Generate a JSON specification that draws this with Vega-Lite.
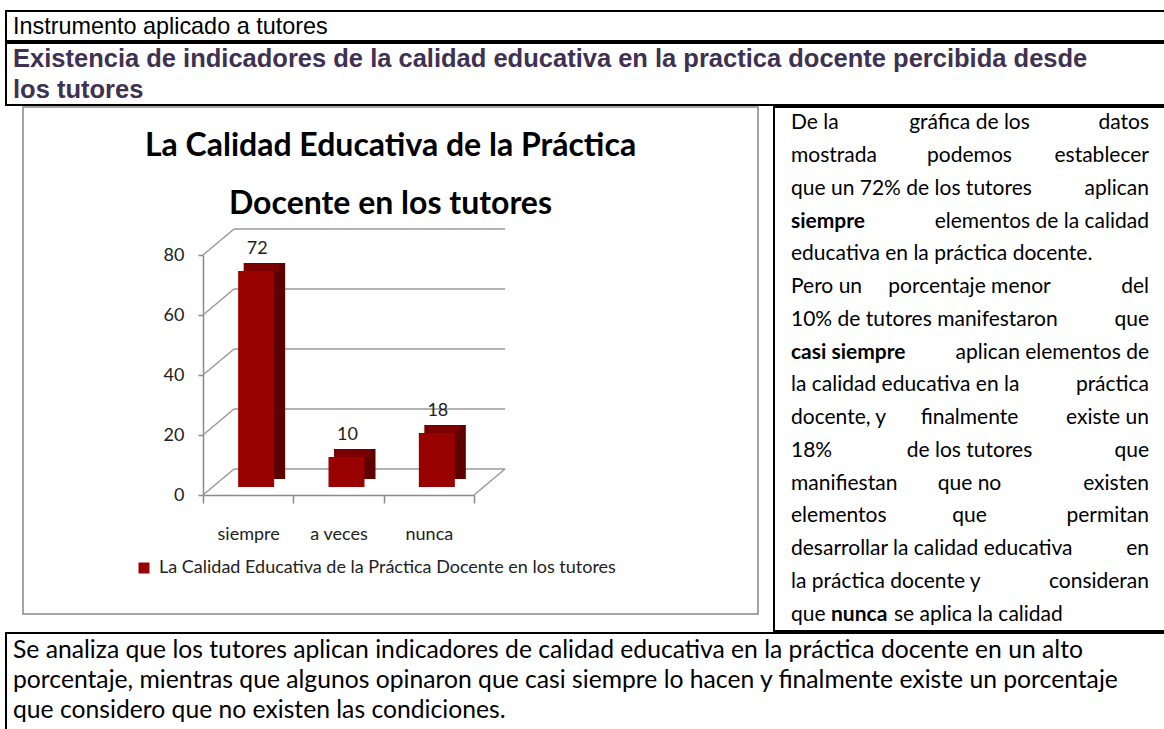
{
  "$schema": "https://vega.github.io/schema/vega-lite/v6.json",
  "padding": {"left": 5, "top": 10, "right": 0, "bottom": 0},
  "background": "white",
  "spacing": 0,
  "datasets": {
    "cab1": [{"texto": "Instrumento aplicado a tutores"}],
    "cab2": [
      {"linea": 1, "texto": "Existencia de indicadores de la calidad educativa en la practica docente percibida desde"},
      {"linea": 2, "texto": "los tutores"}
    ],
    "barras": [
      {"respuesta": "siempre", "porcentaje": 72},
      {"respuesta": "a veces", "porcentaje": 10},
      {"respuesta": "nunca", "porcentaje": 18}
    ],
    "rejilla": [{"v": 0}, {"v": 20}, {"v": 40}, {"v": 60}, {"v": 80}],
    "texto_der": [
      {"linea": 1, "parte": "izq", "texto": "De la"},
      {"linea": 1, "parte": "centro", "texto": "gráfica de los"},
      {"linea": 1, "parte": "der", "texto": "datos"},
      {"linea": 2, "parte": "izq", "texto": "mostrada"},
      {"linea": 2, "parte": "centro", "texto": "podemos"},
      {"linea": 2, "parte": "der", "texto": "establecer"},
      {"linea": 3, "parte": "izq", "texto": "que un 72% de los tutores"},
      {"linea": 3, "parte": "der", "texto": "aplican"},
      {"linea": 4, "parte": "neg", "texto": "siempre"},
      {"linea": 4, "parte": "der", "texto": "elementos de la calidad"},
      {"linea": 5, "parte": "izq", "texto": "educativa en la práctica docente."},
      {"linea": 6, "parte": "izq", "texto": "Pero un"},
      {"linea": 6, "parte": "centro", "texto": "porcentaje menor"},
      {"linea": 6, "parte": "der", "texto": "del"},
      {"linea": 7, "parte": "izq", "texto": "10% de tutores manifestaron"},
      {"linea": 7, "parte": "der", "texto": "que"},
      {"linea": 8, "parte": "neg", "texto": "casi siempre"},
      {"linea": 8, "parte": "der", "texto": "aplican elementos de"},
      {"linea": 9, "parte": "izq", "texto": "la calidad educativa en la"},
      {"linea": 9, "parte": "der", "texto": "práctica"},
      {"linea": 10, "parte": "izq", "texto": "docente, y"},
      {"linea": 10, "parte": "centro", "texto": "finalmente"},
      {"linea": 10, "parte": "der", "texto": "existe un"},
      {"linea": 11, "parte": "izq", "texto": "18%"},
      {"linea": 11, "parte": "centro", "texto": "de los tutores"},
      {"linea": 11, "parte": "der", "texto": "que"},
      {"linea": 12, "parte": "izq", "texto": "manifiestan"},
      {"linea": 12, "parte": "centro", "texto": "que no"},
      {"linea": 12, "parte": "der", "texto": "existen"},
      {"linea": 13, "parte": "izq", "texto": "elementos"},
      {"linea": 13, "parte": "centro", "texto": "que"},
      {"linea": 13, "parte": "der", "texto": "permitan"},
      {"linea": 14, "parte": "izq", "texto": "desarrollar la calidad educativa"},
      {"linea": 14, "parte": "der", "texto": "en"},
      {"linea": 15, "parte": "izq", "texto": "la práctica docente y"},
      {"linea": 15, "parte": "der", "texto": "consideran"},
      {"linea": 16, "parte": "izq", "texto": "que"},
      {"linea": 16, "parte": "neg2", "texto": "nunca"},
      {"linea": 16, "parte": "izq2", "texto": "se aplica la calidad"}
    ],
    "texto_inf": [
      {"linea": 1, "texto": "Se analiza que los tutores aplican indicadores de calidad educativa en la práctica docente en un alto"},
      {"linea": 2, "texto": "porcentaje, mientras que algunos opinaron que casi siempre lo hacen y finalmente existe un porcentaje"},
      {"linea": 3, "texto": "que considero que no existen las condiciones."}
    ]
  },
  "vconcat": [
    {
      "width": 1159,
      "height": 30,
      "data": {"name": "cab1"},
      "mark": {"type": "text", "align": "left", "baseline": "middle", "dx": 7, "dy": 1, "font": "Liberation Sans", "fontSize": 23.4, "color": "black"},
      "encoding": {
        "x": {"datum": 0, "type": "quantitative", "scale": {"domain": [0, 1]}, "axis": null},
        "text": {"field": "texto"}
      }
    },
    {
      "width": 1159,
      "height": 62,
      "data": {"name": "cab2"},
      "mark": {"type": "text", "align": "left", "baseline": "middle", "dx": 7, "font": "Liberation Sans", "fontSize": 25.5, "fontWeight": "bold", "color": "#3f3151"},
      "encoding": {
        "x": {"datum": 0, "type": "quantitative", "scale": {"domain": [0, 1]}, "axis": null},
        "y": {"field": "linea", "type": "ordinal", "scale": {"type": "point", "padding": 0.5, "align": 0.5}, "axis": null},
        "text": {"field": "texto"}
      }
    },
    {
      "spacing": 16,
      "bounds": "flush",
      "hconcat": [
        {
          "width": 1,
          "height": 524,
          "data": {"values": []},
          "mark": "rect",
          "encoding": {}
        },
        {
          "width": 735,
          "height": 507,
          "view": {"stroke": "#868686", "strokeWidth": 1.5},
          "title": {
            "text": ["La Calidad Educativa de la Práctica", "Docente en los tutores"],
            "font": "Lato", "fontSize": 32, "fontWeight": "bold", "color": "black",
            "anchor": "middle", "frame": "group", "orient": "top",
            "baseline": "top", "offset": -114, "lineHeight": 58
          },
          "resolve": {"scale": {"x": "independent"}, "axis": {"x": "independent"}},
          "layer": [
            {
              "data": {"name": "rejilla"},
              "mark": {"type": "rule", "color": "#9a9a9a", "strokeWidth": 1.5, "xOffset": 31, "x2Offset": 31, "yOffset": -26, "y2Offset": -26},
              "encoding": {
                "x": {"datum": 0, "type": "quantitative", "scale": {"domain": [0, 1], "range": [180, 451]}, "axis": null},
                "x2": {"datum": 1},
                "y": {"field": "v", "type": "quantitative",
                  "scale": {"domain": [0, 80], "range": [388, 148], "nice": false},
                  "axis": {"title": null, "values": [0, 20, 40, 60, 80], "offset": -180, "grid": false,
                    "tickSize": 5, "tickColor": "#8a8a8a", "tickWidth": 1.5, "domainColor": "#8a8a8a", "domainWidth": 1.5,
                    "labelFont": "Lato", "labelFontSize": 18, "labelColor": "#222222", "labelPadding": 14}},
                "y2": {"field": "v"}
              }
            },
            {
              "data": {"name": "rejilla"},
              "mark": {"type": "rule", "color": "#9a9a9a", "strokeWidth": 1.5, "x2Offset": 31, "y2Offset": -26},
              "encoding": {
                "x": {"datum": 0, "type": "quantitative", "scale": {"domain": [0, 1], "range": [180, 451]}, "axis": null},
                "x2": {"datum": 0},
                "y": {"field": "v", "type": "quantitative"},
                "y2": {"field": "v"}
              }
            },
            {
              "data": {"name": "rejilla"},
              "transform": [{"filter": "datum.v == 0"}],
              "mark": {"type": "rule", "color": "#9a9a9a", "strokeWidth": 1.5, "x2Offset": 31, "y2Offset": -26},
              "encoding": {
                "x": {"datum": 1, "type": "quantitative", "scale": {"domain": [0, 1], "range": [180, 451]}, "axis": null},
                "x2": {"datum": 1},
                "y": {"field": "v", "type": "quantitative"},
                "y2": {"field": "v"}
              }
            },
            {
              "data": {"name": "barras"},
              "encoding": {
                "x": {"field": "respuesta", "type": "nominal", "sort": ["siempre", "a veces", "nunca"],
                  "scale": {"range": [180, 451], "paddingInner": 0, "paddingOuter": 0},
                  "axis": {"title": null, "orient": "bottom", "offset": -119, "tickBand": "extent", "tickExtra": true,
                    "tickSize": 8, "tickColor": "#8a8a8a", "tickWidth": 1.5, "domainColor": "#8a8a8a", "domainWidth": 1.5,
                    "labelAngle": 0, "labelFont": "Lato", "labelFontSize": 18, "labelColor": "#222222", "labelPadding": 22, "grid": false}},
                "y": {"field": "porcentaje", "type": "quantitative"}
              },
              "layer": [
                {
                  "mark": {"type": "bar", "color": "#5c0000", "width": 36, "xOffset": 19, "yOffset": -16, "y2Offset": -16}
                },
                {
                  "mark": {"type": "bar", "color": "#7a0000", "width": 36, "xOffset": 13.5, "yOffset": -16, "y2Offset": -8},
                  "encoding": {"y2": {"field": "porcentaje"}}
                },
                {
                  "mark": {"type": "bar", "width": 36, "xOffset": 8, "yOffset": -8, "y2Offset": -8},
                  "encoding": {
                    "color": {"datum": "La Calidad Educativa de la Práctica Docente en los tutores", "type": "nominal",
                      "scale": {"range": ["#990000"]},
                      "legend": {"title": null, "orient": "none", "legendX": 129, "legendY": 548, "padding": 0,
                        "symbolType": "square", "symbolSize": 121, "symbolStrokeWidth": 0, "labelFont": "Lato",
                        "labelFontSize": 18, "labelColor": "#222222", "labelLimit": 0, "labelOffset": 6}}
                  }
                },
                {
                  "mark": {"type": "text", "baseline": "middle", "xOffset": 9, "yOffset": -30, "font": "Lato", "fontSize": 18, "color": "#222222"},
                  "encoding": {"text": {"field": "porcentaje"}}
                }
              ]
            }
          ]
        },
        {
          "width": 391,
          "height": 524,
          "data": {"name": "texto_der"},
          "encoding": {
            "y": {"field": "linea", "type": "ordinal", "scale": {"type": "point", "padding": 0.5}, "axis": null},
            "text": {"field": "texto"}
          },
          "layer": [
            {
              "transform": [{"filter": "datum.parte == 'izq'"}],
              "mark": {"type": "text", "align": "left", "baseline": "middle", "dx": 17, "font": "Lato", "fontSize": 21, "color": "black"},
              "encoding": {"x": {"datum": 0, "type": "quantitative", "scale": {"domain": [0, 1]}, "axis": null}}
            },
            {
              "transform": [{"filter": "datum.parte == 'centro'"}],
              "mark": {"type": "text", "align": "center", "baseline": "middle", "font": "Lato", "fontSize": 21, "color": "black"}
            },
            {
              "transform": [{"filter": "datum.parte == 'neg'"}],
              "mark": {"type": "text", "align": "left", "baseline": "middle", "dx": 17, "font": "Lato", "fontSize": 21, "fontWeight": "bold", "color": "black"},
              "encoding": {"x": {"datum": 0, "type": "quantitative", "scale": {"domain": [0, 1]}, "axis": null}}
            },
            {
              "transform": [{"filter": "datum.parte == 'der'"}],
              "mark": {"type": "text", "align": "right", "baseline": "middle", "dx": -16, "font": "Lato", "fontSize": 21, "color": "black"},
              "encoding": {"x": {"datum": 1, "type": "quantitative", "scale": {"domain": [0, 1]}, "axis": null}}
            },
            {
              "transform": [{"filter": "datum.parte == 'neg2'"}],
              "mark": {"type": "text", "align": "left", "baseline": "middle", "dx": 57, "font": "Lato", "fontSize": 21, "fontWeight": "bold", "color": "black"},
              "encoding": {"x": {"datum": 0, "type": "quantitative", "scale": {"domain": [0, 1]}, "axis": null}}
            },
            {
              "transform": [{"filter": "datum.parte == 'izq2'"}],
              "mark": {"type": "text", "align": "left", "baseline": "middle", "dx": 120, "font": "Lato", "fontSize": 21, "color": "black"},
              "encoding": {"x": {"datum": 0, "type": "quantitative", "scale": {"domain": [0, 1]}, "axis": null}}
            }
          ]
        }
      ]
    },
    {
      "width": 1159,
      "height": 100,
      "data": {"name": "texto_inf"},
      "mark": {"type": "text", "align": "left", "baseline": "middle", "dx": 7, "font": "Lato", "fontSize": 24.7, "color": "black"},
      "encoding": {
        "x": {"datum": 0, "type": "quantitative", "scale": {"domain": [0, 1]}, "axis": null},
        "y": {"field": "linea", "type": "ordinal", "scale": {"type": "point", "padding": 0.667, "align": 0.45}, "axis": null},
        "text": {"field": "texto"}
      }
    }
  ],
  "config": {
    "view": {"stroke": "black", "strokeWidth": 2},
    "font": "Lato"
  }
}
